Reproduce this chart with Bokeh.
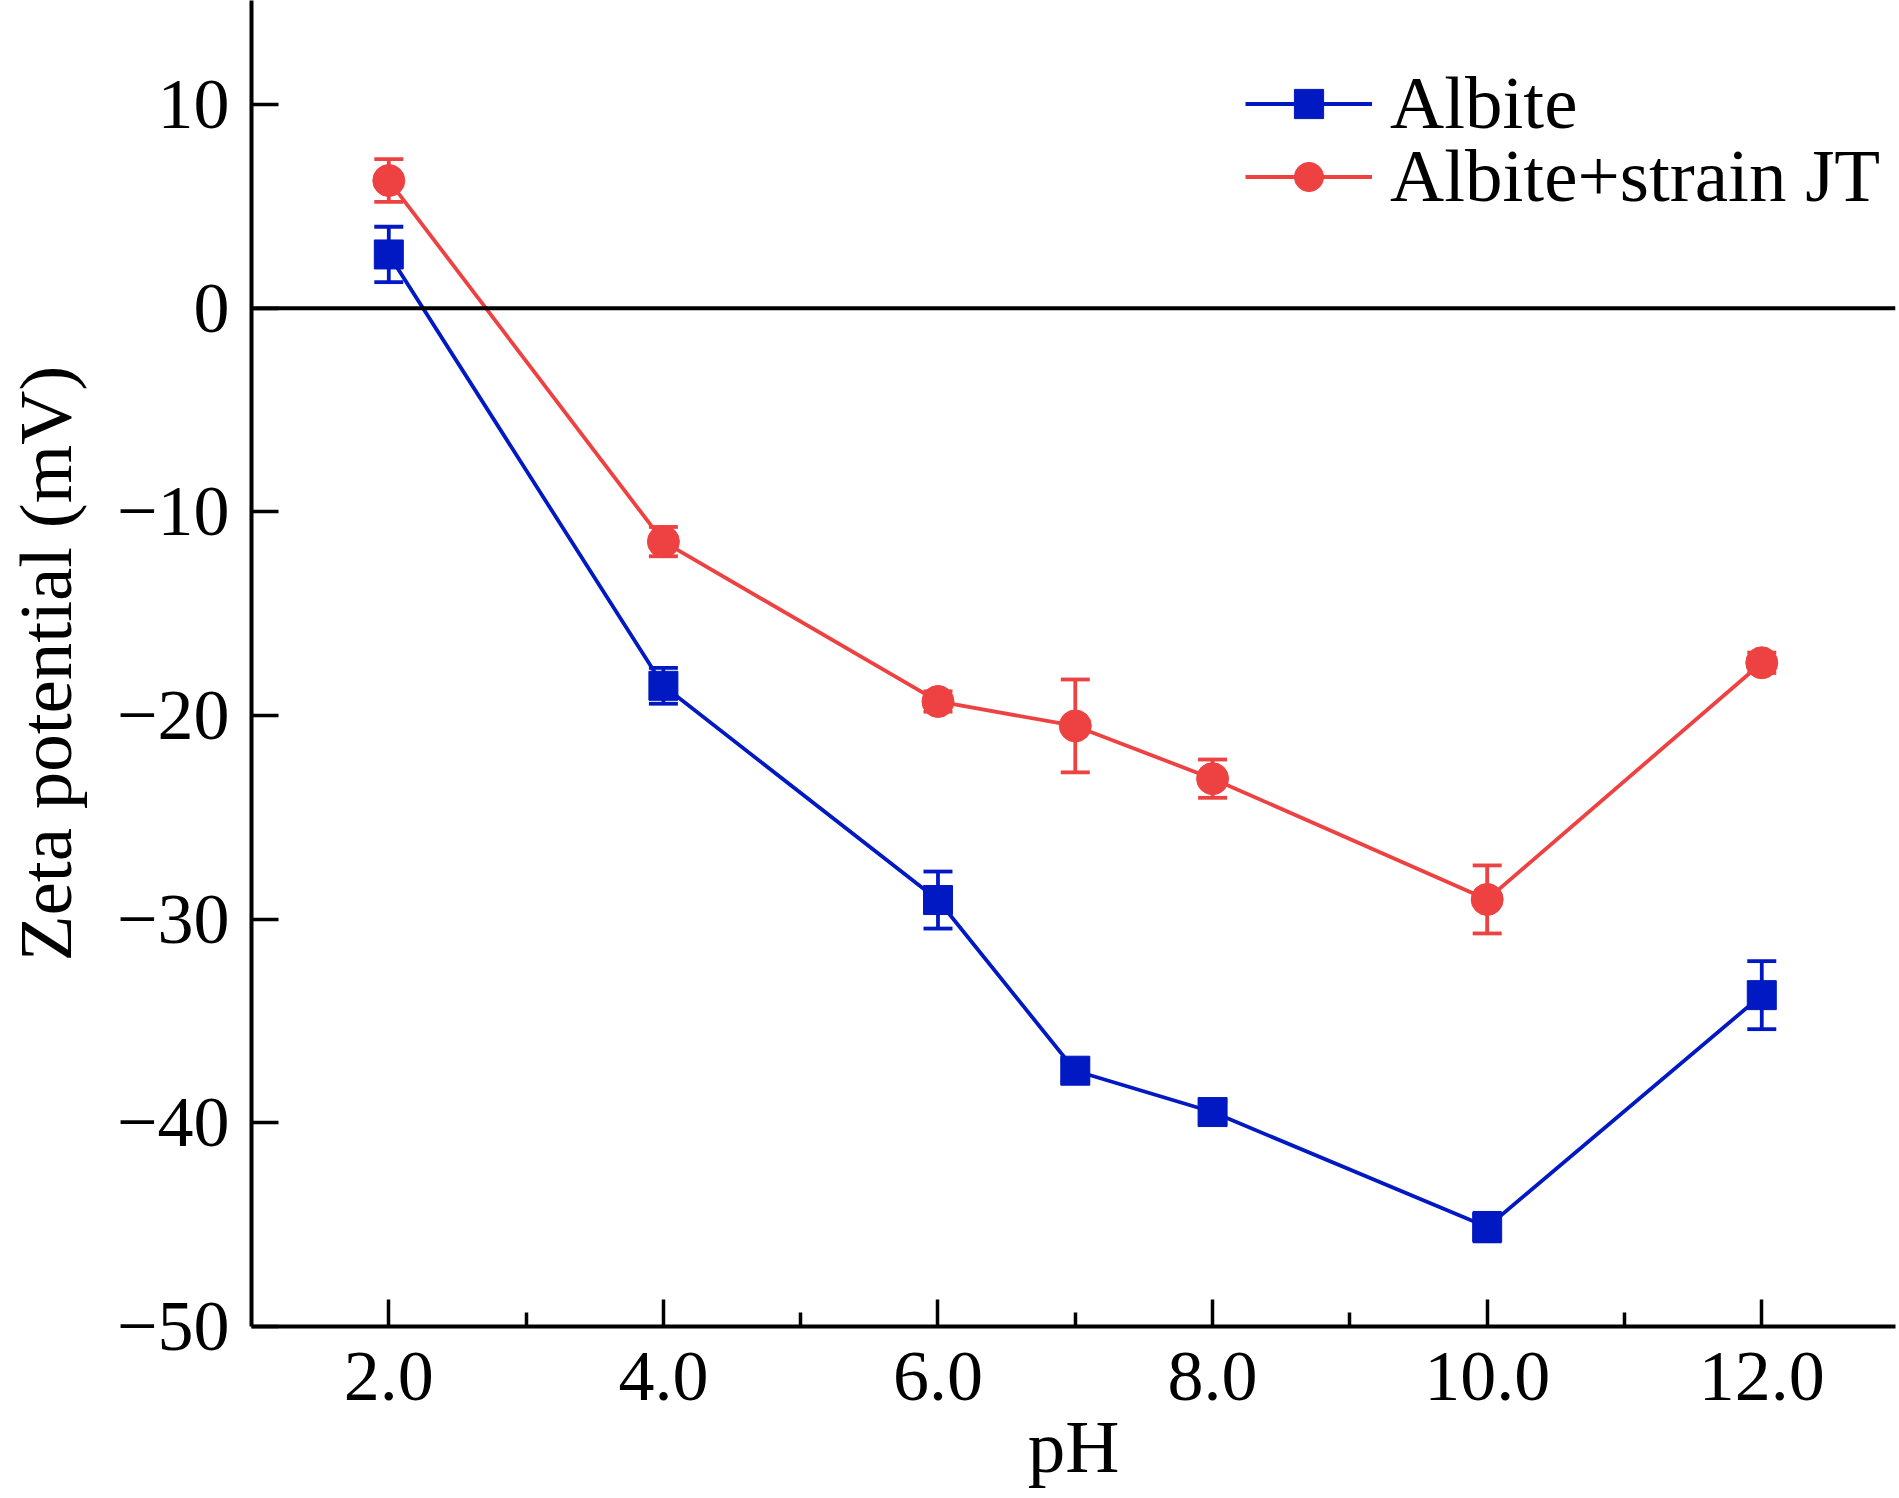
from bokeh.plotting import figure
from bokeh.models import (ColumnDataSource, Whisker, TeeHead, FixedTicker, Span,
                          Legend, LegendItem, Range1d)
from bokeh.embed import file_html
from bokeh.resources import INLINE

# ---- data ----
ph = [2, 4, 6, 7, 8, 10, 12]
albite = [2.64, -18.54, -29.06, -37.44, -39.47, -45.12, -33.73]
albite_err = [1.36, 0.88, 1.40, 0.5, 0.5, 0.7, 1.67]
albite_jt = [6.27, -11.46, -19.31, -20.51, -23.10, -29.03, -17.41]
albite_jt_err = [1.05, 0.72, 0.5, 2.28, 0.94, 1.67, 0.5]

series_names = ["Albite", "Albite+strain JT"]
x_ticks = [2, 4, 6, 8, 10, 12]
x_minor_ticks = [3, 5, 7, 9, 11]
x_tick_labels = ["2.0", "4.0", "6.0", "8.0", "10.0", "12.0"]
y_ticks = [-50, -40, -30, -20, -10, 0, 10]
y_tick_labels = ["\u221250", "\u221240", "\u221230", "\u221220", "\u221210", "0", "10"]

BLUE = "#0019C2"
RED = "#EE4242"
FONT = "Liberation Serif"
FS_TICK = "72px"
FS_LABEL = "75px"

p = figure(width=1897, height=1496, x_range=Range1d(1, 12.974), y_range=Range1d(-50, 15.11),
           output_backend="svg", toolbar_location=None,
           min_border_left=251, min_border_right=2, min_border_top=0, min_border_bottom=170)
p.outline_line_color = None
p.xgrid.grid_line_color = None
p.ygrid.grid_line_color = None
p.background_fill_color = "white"
p.border_fill_color = "white"

p.xaxis.ticker = FixedTicker(ticks=x_ticks, minor_ticks=x_minor_ticks)
p.xaxis.major_label_overrides = {t: l for t, l in zip(x_ticks, x_tick_labels)}
p.yaxis.ticker = FixedTicker(ticks=y_ticks, minor_ticks=[])
p.yaxis.major_label_overrides = {t: l for t, l in zip(y_ticks, y_tick_labels)}

p.xaxis.axis_label = "pH"
p.yaxis.axis_label = "Zeta potential (mV)"

for ax in (p.xaxis[0], p.yaxis[0]):
    ax.axis_line_width = 4
    ax.axis_line_color = "black"
    ax.major_tick_line_width = 3.5
    ax.major_tick_line_color = "black"
    ax.major_tick_in = 27
    ax.major_tick_out = 0
    ax.minor_tick_in = 14
    ax.minor_tick_out = 0
    ax.minor_tick_line_width = 3.5
    ax.minor_tick_line_color = "black"
    ax.major_label_text_font = FONT
    ax.major_label_text_font_size = FS_TICK
    ax.major_label_text_color = "black"
    ax.axis_label_text_font = FONT
    ax.axis_label_text_font_size = FS_LABEL
    ax.axis_label_text_font_style = "normal"
    ax.axis_label_text_color = "black"

p.yaxis.minor_tick_line_color = None
p.xaxis.major_label_standoff = 26
p.xaxis.axis_label_standoff = 2
p.yaxis.major_label_standoff = 22
p.yaxis.axis_label_standoff = 27

p.add_layout(Span(location=0, dimension="width", line_color="black", line_width=4))

src_a = ColumnDataSource(dict(x=ph, y=albite,
                              upper=[v + e for v, e in zip(albite, albite_err)],
                              lower=[v - e for v, e in zip(albite, albite_err)]))
src_j = ColumnDataSource(dict(x=ph, y=albite_jt,
                              upper=[v + e for v, e in zip(albite_jt, albite_jt_err)],
                              lower=[v - e for v, e in zip(albite_jt, albite_jt_err)]))

renderers = []
for src, color, marker, size in ((src_a, BLUE, "square", 29), (src_j, RED, "circle", 32)):
    ln = p.line("x", "y", source=src, line_color=color, line_width=3.8)
    sc = p.scatter("x", "y", source=src, marker=marker, size=size,
                   fill_color=color, line_color=color)
    wh = Whisker(source=src, base="x", upper="upper", lower="lower",
                 line_color=color, line_width=3.8,
                 upper_head=TeeHead(size=29, line_color=color, line_width=3.8),
                 lower_head=TeeHead(size=29, line_color=color, line_width=3.8))
    p.add_layout(wh)
    renderers.append([ln, sc])

# one legend per entry so the row spacing can match the reference
for name, rs, loc in zip(series_names, renderers, [(994, 1180), (994, 1107)]):
    lg = Legend(items=[LegendItem(label=name, renderers=rs)], location=loc)
    lg.glyph_width = 127
    lg.glyph_height = 73
    lg.label_height = 73
    lg.label_standoff = 18
    lg.padding = 0
    lg.spacing = 0
    lg.margin = 0
    lg.border_line_color = None
    lg.background_fill_alpha = 0
    lg.label_text_font = FONT
    lg.label_text_font_size = FS_LABEL
    lg.label_text_color = "black"
    p.add_layout(lg)

open("out.html", "w").write(file_html(p, INLINE))
